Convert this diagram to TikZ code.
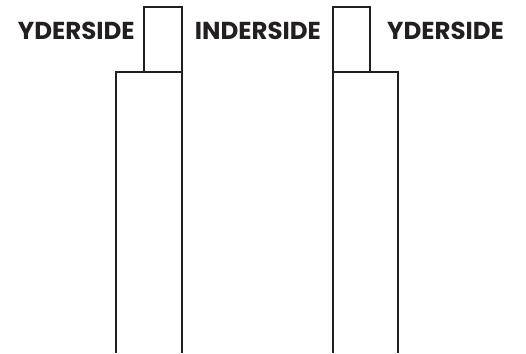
\documentclass[tikz,border=0pt]{standalone}
\usepackage{fontspec}
\setmainfont{Poppins}
\definecolor{ink}{HTML}{231F20}
\begin{document}
\begin{tikzpicture}[x=1pt,y=1pt,
  wall/.style={draw=ink,line width=1.9pt},
  label/.style={inner sep=0pt,anchor=base,text=ink,font=\fontsize{24.5}{24.5}\selectfont\bfseries}]
\useasboundingbox (0,0) rectangle (526,353);
% left column
\draw[wall] (144.3,281.3) -- (144.3,346.3) -- (181.7,346.3) -- (181.7,0);
\draw[wall] (116.3,0) -- (116.3,281.3) -- (181.7,281.3);
% right column
\draw[wall] (370,281.3) -- (370,346.3) -- (332.7,346.3) -- (332.7,0);
\draw[wall] (397.7,0) -- (397.7,281.3) -- (332.7,281.3);
\node[label] (l) at (76.3,313.7) {YDERSIDE};
\node[label] (m) at (257.9,313.7) {INDERSIDE};
\node[label] (r) at (445.5,313.7) {YDERSIDE};
\end{tikzpicture}
\end{document}
